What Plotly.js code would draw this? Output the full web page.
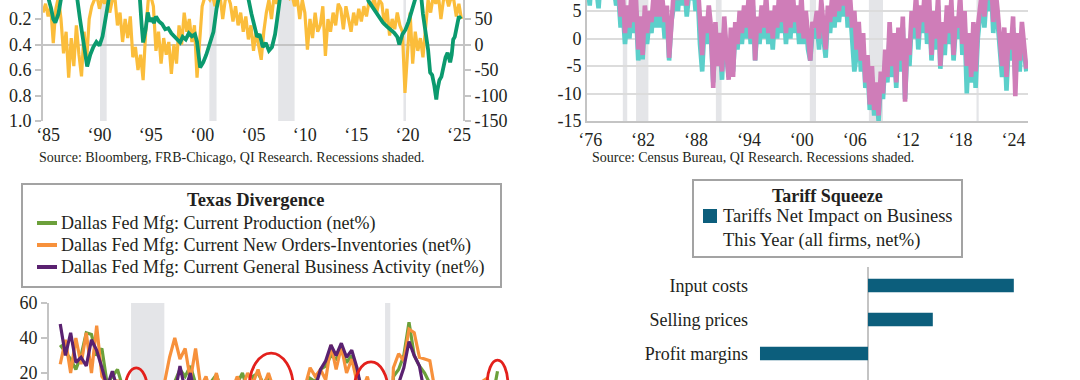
<!DOCTYPE html>
<html><head><meta charset="utf-8">
<script src="https://cdn.plot.ly/plotly-3.0.1.min.js"></script>
<style>html,body{margin:0;padding:0;background:#fff;}#chart{width:1080px;height:380px;}</style>
</head><body><div id="chart"></div>
<script>
// ---------- DATA ----------
// Panel 1 (top-left): quarterly from 1985.0, left axis (reversed)
const yellowStart = 1985.0;
const yellowY = [
0.15,0.08,0.18,0.10, 0.39,0.12,0.03,0.20, 0.47,0.30,0.66,0.35, 0.57,0.25,0.48,0.65,
0.30,0.52,0.20,0.10, 0.05,0.02,0.12,0.03, 0.08,0.02,0.15,0.05, 0.03,0.25,0.15,0.38,
0.20,0.35,0.18,0.50, 0.42,0.60,0.48,0.68, 0.30,0.05,0.02,0.10, 0.45,0.30,0.55,0.35,
0.48,0.38,0.63,0.40, 0.55,0.25,0.40,0.15, 0.30,0.20,0.38,0.25, 0.66,0.40,0.10,0.03,
0.02,0.05,0.01,0.10, 0.03,0.02,0.20,0.05, 0.02,0.08,0.22,0.10, 0.25,0.15,0.30,0.18,
0.36,0.25,0.45,0.30, 0.40,0.52,0.30,0.15, 0.05,0.20,0.02,0.08, 0.01,0.03,0.01,0.02,
0.04,0.01,0.10,0.03, 0.20,0.05,0.15,0.44, 0.20,0.35,0.15,0.30, 0.25,0.10,0.49,0.20,
0.30,0.15,0.25,0.08, 0.12,0.28,0.10,0.20, 0.30,0.15,0.25,0.12, 0.22,0.10,0.18,0.06,
0.10,0.03,0.15,0.05, 0.08,0.25,0.12,0.33, 0.20,0.28,0.15,0.25, 0.30,0.78,0.45,0.15,
0.55,0.30,0.45,0.35, 0.50,0.25,0.05,0.15, 0.02,0.08,0.01,0.20, 0.05,0.02,0.10,0.03,
0.05,0.18,0.08,0.20];
// right axis series
const greenX = [1985.0,1985.4,1985.8,1986.0,1986.2,1986.5,1986.8,1987.5,1988.0,1988.3,1988.6,1988.9,1989.1,1989.3,1989.6,1989.9,1990.2,1990.5,1990.8,1991.0,1991.2,1991.5,1992.0,1993.0,1994.0,1994.4,1994.6,1994.75,1995.0,1995.2,1995.4,1995.6,1995.8,1996.0,1996.3,1996.6,1996.9,1997.2,1997.5,1997.7,1998.0,1998.35,1998.6,1998.9,1999.2,1999.5,1999.8,2000.0,2000.3,2000.6,2000.9,2001.2,2001.6,2001.9,2002.3,2003.0,2004.0,2004.7,2005.0,2005.3,2005.6,2005.85,2006.1,2006.4,2006.7,2007.0,2007.3,2007.6,2007.8,2008.1,2009.0,2012.0,2015.0,2016.3,2016.7,2017.2,2017.7,2018.1,2018.5,2018.9,2019.2,2019.5,2019.7,2020.0,2020.3,2020.6,2021.0,2021.4,2021.7,2022.0,2022.2,2022.5,2022.7,2022.9,2023.1,2023.3,2023.4,2023.6,2023.8,2024.0,2024.2,2024.4,2024.65,2024.8,2024.95,2025.1,2025.3,2025.5,2025.7];
const greenY = [120,100,70,50,43,60,95,130,120,95,50,10,-15,-43,-20,-5,5,-2,16,40,69,100,130,140,130,100,40,4,30,63,45,52,42,55,45,40,30,32,22,18,10,4,15,10,22,16,20,5,-45,-35,-20,0,25,70,110,140,130,110,90,60,35,15,20,-5,3,-12,-5,20,49,95,130,140,130,110,85,70,55,43,35,28,23,15,0,20,29,45,69,95,120,60,35,-10,-55,-60,-80,-108,-90,-70,-63,-40,-25,-16,-35,-20,10,15,35,55,50];
const tlTickYears = [1985,1990,1995,2000,2005,2010,2015,2020,2025];
const tlTickText = ['\u201885','\u201890','\u201895','\u201800','\u201805','\u201810','\u201815','\u201820','\u201825'];
const tlLeftTicks = [0.2,0.4,0.6,0.8,1.0];
const tlLeftText = ['0.2','0.4','0.6','0.8','1.0'];
const tlRightTicks = [-150,-100,-50,0,50];
const tlRightText = ['-150','-100','-50','0','50'];

// Panel 2 (top-right): quarterly from 1976.0
const p2Start = 1976.0;
const tealY = [
10,6,12,8, 9,5.5,11,8, 12,8,10,7.5, 9,6,8,2, 5,-1,4,0, 6,1,5,-4, 2,-3.8,4,-1, 3,1,6,2,
7,2,5,0, 4,-4,3,6, 8,5,10,6, 9,4,8,7, 10,5,8,-1, -6,2,-1,4, 0,-8,1,-4, -1,-7.5,2,-3,
-7,0,-6,1, -2,3,-1,4, 0,5,-1,6, -4,2,-1,4, 0,6,-1,3, -2,4,0,7, 1,5,-1,6, 0,7,1,4,
-1,6,-1,3, -2,-4,1,0, 3,-2,5,0, -3.5,4,1,6, 2,8,3,7, 4,9,2,6, 0,-6,-3,1, -6,-1,-9,-5,
-13,-7,-14,-10, -15,-8,-11,-4, -8,1,-7,-1, -9,0,-6,2, -11,-2,-5,3, 0,6,-2,4, 1,7,-1,5,
-4,3,-2,6, -5.5,1,-3,4, -1,5,-4,2, 0,6,-3,3, -10,-1,-8,1, -9,0,4,7, 2,8,5,10, 1,7,3,-2,
-7,0,-9.5,-1, -4,2,-7.5,-1, -6,1,-3,-6];
const pinkY = [
12,9,14,10, 11,13,9,12, 14,10,12,9, 11,8,10,4, 8,1,6,2, 9,3,7,-2, 4,-3,6,1, 5,3,8,4,
9,4,7,3, 6,-3.5,5,8, 10,7,12,8, 11,6,10,9, 12,8,10,2, -3,4,1,6, 2,-9,3,-5, 1,-6,4,-2,
-7.5,2,-7,3, -1,5,1,6, 2,7,0,8, -4,4,1,6, 2,8,1,5, 0,6,2,9, 3,7,1,8, 2,9,3,6,
1,8,0,5, -1,-4,3,2, 5,0,7,2, -2,6,3,8, 4,10,5,9, 6,11,4,8, 2,5,-2,3, -4,1,-8,-3,
-12,-5,-13,-8, -14,-6,-10,-2, -7,3,-5,1, -8,2,-4,4, -11.5,0,-3,5, 2,8,0,6, 3,9,1,7,
-3,5,0,8, -5,3,-1,6, 1,7,-3,4, 2,8,-1,5, -5,1,-7,3, -6,2,6,9, 4,10,7,12, 3,9,5,0,
-5,2,-7,1, -2,4,-10.5,1, -4,3,-1,-5.5];
const trTickYears = [1976,1982,1988,1994,2000,2006,2012,2018,2024];
const trTickText = ['\u201876','\u201882','\u201888','\u201894','\u201800','\u201806','\u201812','\u201818','\u201824'];
const trYTicks = [-15,-10,-5,0,5];
const trYText = ['-15','-10','-5','0','5'];

// Recessions
const recStart = [1980.0, 1981.5, 1990.55, 2001.2, 2007.9, 2020.1];
const recEnd   = [1980.5, 1982.9, 1991.2, 2001.9, 2009.5, 2020.35];

// Panel 3 (bottom-left): quarterly from 2004.5
const p3Start = 2004.5;
const prodY = [36,32, 28,22,30,43, 42,30,34,14, 18,22,12,8, 0,-10,-20,-35, -30,-15,5,12, 15,22,18,24,
14,12,8,15, 19,10,12,8, 14,20,10,18, 20,14,18,12, 5,-5,2,0, -5,5,17,15, 22,24,30,28, 33,26,30,20,
12,10,5,8, 10,-70,18,22, 30,49,30,24, 20,14,5,3, 8,5,2,10, 0,5,3,12, 14,5,21];
const ordersY = [25,39, 20,40,25,43, 20,47,18,14, 10,16,6,0, -5,-15,-25,-40, -20,0,14,29, 40,28,34,16,
34,12,18,8, 20,6,15,10, 18,12,20,14, 22,12,20,8, 2,-5,6,0, 3,12,23,18, 22,16,36,22, 35,20,28,15,
10,18,5,12, 8,-60,23,31, 27,45,43,29, 28,27,10,5, 12,2,8,14, 5,10,6,15, 17,8,12];
const gbaY = [48,30, 43,26,29,24, 39,33,23,12, 21,10,5,-5, -15,-25,-35,-55, -60,-45,-20,-5, 8,24,10,20,
5,12,-2,8, 10,2,6,0, 5,3,8,2, 10,6,8,4, -10,-15,-8,-12, -20,-10,2,12, 22,27,36,30, 37,29,33,23,
8,3,-3,0, 2,-70,-5,14, 23,38,30,24, 8,5,-18,-15, -10,-20,-18,-15, -25,-12,-15,0, 10,-25,-5];
const p3Names = ['Dallas Fed Mfg: Current Production (net%)','Dallas Fed Mfg: Current New Orders-Inventories (net%)','Dallas Fed Mfg: Current General Business Activity (net%)'];
const p3Ticks = [20,40,60];
// highlighted episodes (circled): [x0, x1, y0, y1] in years / net%
const circX0 = [2007.6, 2013.57, 2018.6, 2025.0];
const circX1 = [2008.7, 2015.69, 2020.25, 2026.0];
const circY0 = [-4.6, -8.6, -8.0, -1.1];
const circY1 = [22.9, 31.4, 26.3, 27.4];

// Panel 4 (bottom-right)
const barCats = ['Input costs','Selling prices','Profit margins','Demand for goods/services'];
const barVals = [54, 24, -40, -22];
const barLegend = 'Tariffs Net Impact on Business<br>This Year (all firms, net%)';

// ---------- HELPERS ----------
const W = 1080, H = 380;
const px = x => x / W;
const py = y => 1 - y / H;
const seq = (start, n) => Array.from({length: n}, (_, i) => start + i * 0.25);
const F = '"Liberation Serif","Times New Roman",serif';
const TXT = '#231f20';
const GR = '#c4c4c4';
const tickFont = {family: F, size: 18, color: TXT};

const C = {yellow:'#fbbd3b', green:'#0b9a6e', teal:'#5ccfca', pink:'#cf7db8',
  prod:'#6ca03b', orders:'#f7913c', gba:'#5a2170', red:'#e3201c', bar:'#0c5e7c', rec:'#e4e5e8'};

const traces = [
  {x: seq(yellowStart, yellowY.length), y: yellowY, xaxis:'x', yaxis:'y', mode:'lines', line:{color:C.yellow, width:3.2}},
  {x: greenX, y: greenY, xaxis:'x', yaxis:'y2', mode:'lines', line:{color:C.green, width:3.8}},
  {x: seq(p2Start, tealY.length), y: tealY, xaxis:'x2', yaxis:'y3', mode:'lines', line:{color:C.teal, width:4.6}},
  {x: seq(p2Start, pinkY.length), y: pinkY, xaxis:'x2', yaxis:'y3', mode:'lines', line:{color:C.pink, width:4.6}},
  {x: seq(p3Start, prodY.length), y: prodY, xaxis:'x3', yaxis:'y4', mode:'lines', line:{color:C.prod, width:3.2}},
  {x: seq(p3Start, ordersY.length), y: ordersY, xaxis:'x3', yaxis:'y4', mode:'lines', line:{color:C.orders, width:3.2}},
  {x: seq(p3Start, gbaY.length), y: gbaY, xaxis:'x3', yaxis:'y4', mode:'lines', line:{color:C.gba, width:3.2}},
  {x: barVals, y: barCats, xaxis:'x4', yaxis:'y5', type:'bar', orientation:'h', width:0.4, marker:{color:C.bar}}
];

const shapes = [];
function addRec(xref, yref, lo, hi) {
  recStart.forEach((s, i) => {
    const a = Math.max(s, lo), b = Math.min(recEnd[i], hi);
    if (b > a) shapes.push({type:'rect', xref, yref: yref + ' domain', x0:a, x1:b, y0:0, y1:1, fillcolor:C.rec, line:{width:0}, layer:'below'});
  });
}
addRec('x', 'y', 1985.0, 2025.9);
addRec('x2', 'y3', 1975.94, 2025.94);
addRec('x3', 'y4', 2003.96, 2026.1);
circX0.forEach((x0, i) => shapes.push({type:'circle', xref:'x3', yref:'y4', x0, x1:circX1[i], y0:circY0[i], y1:circY1[i], line:{color:C.red, width:2.8}}));

// legend boxes
shapes.push({type:'rect', xref:'paper', yref:'paper', x0:px(22), x1:px(501), y0:py(287), y1:py(184), line:{color:'#a3a3a3', width:2}});
shapes.push({type:'rect', xref:'paper', yref:'paper', x0:px(693), x1:px(962), y0:py(257), y1:py(180), line:{color:'#a3a3a3', width:2}});
const swCol = [C.prod, C.orders, C.gba];
const legY = [223, 245, 267];
swCol.forEach((c, i) => shapes.push({type:'line', xref:'paper', yref:'paper', x0:px(37), x1:px(57), y0:py(legY[i]), y1:py(legY[i]), line:{color:c, width:4}}));
shapes.push({type:'rect', xref:'paper', yref:'paper', x0:px(703), x1:px(717), y0:py(223), y1:py(209), fillcolor:C.bar, line:{width:0}});

const ann = [];
const A = (text, x, y, xa, size, bold, extra) => ann.push(Object.assign({text: bold ? '<b>' + text + '</b>' : text, xref:'paper', yref:'paper', x:px(x), y:py(y), xanchor:xa, yanchor:'middle', showarrow:false, font:{family:F, size, color:TXT}}, extra || {}));
A('Source: Bloomberg, FRB-Chicago, QI Research. Recessions shaded.', 37, 157, 'left', 14);
A('Source: Census Bureau, QI Research. Recessions shaded.', 590, 157, 'left', 14);
A('Texas Divergence', 256, 200, 'center', 18.5, true);
p3Names.forEach((t, i) => A(t, 59, legY[i], 'left', 18));
A('Tariff Squeeze', 827, 196, 'center', 18, true);
A(barLegend, 721, 228, 'left', 18.5, false, {align:'left'});
A(barCats[3], 748, 390, 'right', 18);

const layout = {
  width: W, height: H, margin:{l:0, r:0, t:0, b:0}, paper_bgcolor:'#fff', plot_bgcolor:'rgba(0,0,0,0)',
  showlegend:false, font:{family:F, color:TXT},
  xaxis:{domain:[px(43), px(463)], range:[1985.0, 2025.9], anchor:'y', showgrid:false, zeroline:false, showline:false, ticks:'',
    tickvals: tlTickYears.map(v => v + 0.5), ticktext: tlTickText, tickfont: tickFont, ticklabelstandoff: 1},
  yaxis:{domain:[py(121), 1], range:[1.0, 0.051], anchor:'x', showgrid:false, zeroline:false, showline:true, linecolor:GR, linewidth:2,
    ticks:'outside', ticklen:6, tickwidth:2, tickcolor:GR, tickvals: tlLeftTicks, ticktext: tlLeftText, tickfont: tickFont, ticklabeloverflow:'allow'},
  yaxis2:{overlaying:'y', side:'right', anchor:'x', range:[-150, 87.3], showgrid:false, zeroline:true, zerolinecolor:GR, zerolinewidth:2,
    showline:true, linecolor:GR, linewidth:2, ticks:'outside', ticklen:6, tickwidth:2, tickcolor:GR, tickvals: tlRightTicks, ticktext: tlRightText, tickfont: tickFont, ticklabeloverflow:'allow'},
  xaxis2:{domain:[px(587), px(1028)], range:[1975.94, 2025.94], anchor:'y3', showgrid:false, zeroline:false, showline:true, linecolor:GR, linewidth:2, ticks:'',
    tickvals: trTickYears.map(v => v + 0.3), ticktext: trTickText, tickfont: tickFont, ticklabelstandoff: 1},
  yaxis3:{domain:[py(121), 1], range:[-15, 7.0], anchor:'x2', showgrid:true, gridcolor:'#dcdcdc', gridwidth:2, zeroline:false, showline:true, linecolor:GR, linewidth:2,
    ticks:'', tickvals: trYTicks, ticktext: trYText, tickfont: tickFont, ticklabeloverflow:'allow'},
  xaxis3:{domain:[px(49), px(510)], range:[2003.96, 2026.1], anchor:'y4', showgrid:false, zeroline:false, showline:false, showticklabels:false, ticks:''},
  yaxis4:{domain:[0, py(303)], range:[16, 60], anchor:'x3', showgrid:false, zeroline:false, showline:true, linecolor:GR, linewidth:2,
    ticks:'outside', ticklen:6, tickwidth:2, tickcolor:GR, tickvals: p3Ticks, tickfont: tickFont, ticklabeloverflow:'allow'},
  xaxis4:{domain:[px(751), px(1060)], range:[-43.33, 71.1], anchor:'y5', showgrid:false, zeroline:true, zerolinecolor:GR, zerolinewidth:2, showline:false, showticklabels:false, ticks:''},
  yaxis5:{domain:[0, py(267)], anchor:'x4', type:'category', categoryorder:'array', categoryarray: barCats, range:[2.78, -0.544],
    showgrid:false, zeroline:false, showline:false, ticks:'', tickfont:{family:F, size:18, color:TXT}, ticklabelstandoff: 2},
  shapes, annotations: ann
};
Plotly.newPlot('chart', traces, layout, {staticPlot:true, displayModeBar:false});
</script></body></html>
